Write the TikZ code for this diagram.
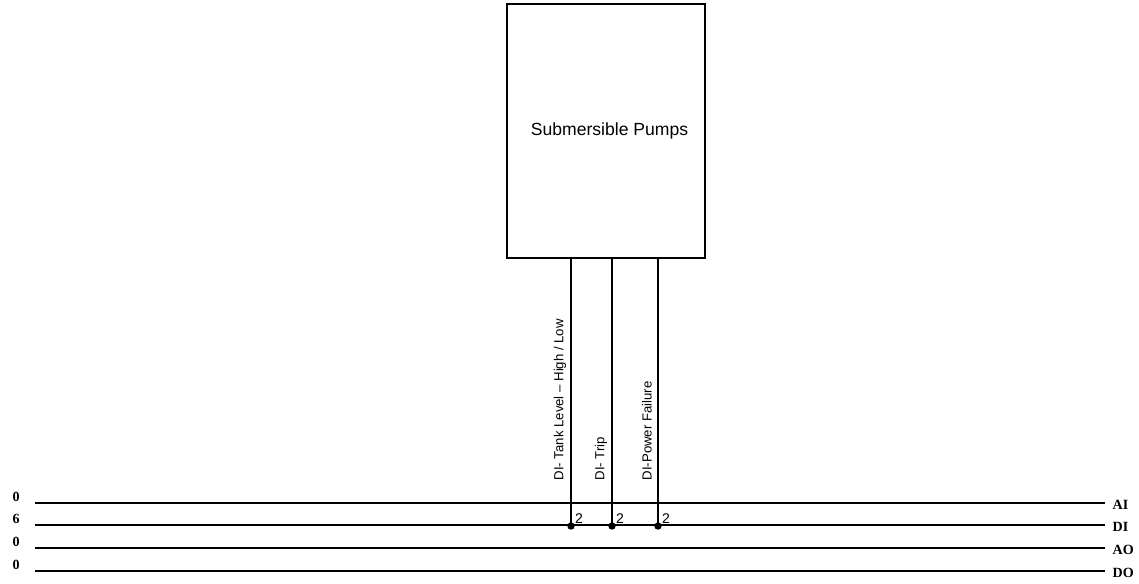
\documentclass[tikz,border=0pt]{standalone}
\usepackage{fontspec}
\setmainfont{Liberation Serif}
\setsansfont{Liberation Sans}
\begin{document}
\begin{tikzpicture}[x=0.02cm, y=-0.02cm, line width=0.8pt]
  \tikzset{
    pumpbox/.style={rectangle, draw=black, minimum width=3.96cm, minimum height=5.08cm, inner sep=0pt, font=\sffamily\fontsize{10}{12}\selectfont},
    siglabel/.style={rotate=90, anchor=west, inner sep=0pt, font=\sffamily\fontsize{7.5}{9}\selectfont},
    buslabel/.style={anchor=west, inner sep=0pt, font=\bfseries\fontsize{8}{9}\selectfont},
    countlabel/.style={anchor=west, inner sep=0pt, font=\bfseries\fontsize{8}{9}\selectfont},
    pinlabel/.style={anchor=south west, inner sep=0pt, font=\sffamily\fontsize{8}{9}\selectfont},
    junction/.style={circle, fill=black, inner sep=0pt, minimum size=4.2pt}
  }
  \useasboundingbox (0,0) rectangle (1139,583);

  % pump block
  \node[pumpbox] (pumps) at (606,131) {\hspace*{4pt}Submersible Pumps};

  % signal buses
  \foreach \y/\n/\bus in {503/0/AI, 525/6/DI, 548/0/AO, 571/0/DO} {
    \coordinate (\bus-w) at (35,\y);
    \coordinate (\bus-e) at (1105,\y);
    \draw (\bus-w) -- (\bus-e);
    \node[countlabel] (\bus-count) at (12,\y-6) {\n};
    \node[buslabel] (\bus-label) at (1112,\y+2) {\bus};
  }

  % digital inputs from the pumps
  \foreach \x/\sig/\txt in {571/tank/{DI- Tank Level – High / Low}, 612/trip/{DI- Trip}, 658/power/{DI-Power Failure}} {
    \coordinate (\sig-top) at (pumps.south -| \x,0);
    \node[junction] (\sig-dot) at (\x,526) {};
    \draw (\sig-top) -- (\sig-dot.center);
    \node[siglabel] (\sig-text) at (\x-11,481) {\txt};
    \node[pinlabel] (\sig-pin) at ([xshift=2pt,yshift=1pt]\sig-dot.center) {2};
  }
\end{tikzpicture}
\end{document}
